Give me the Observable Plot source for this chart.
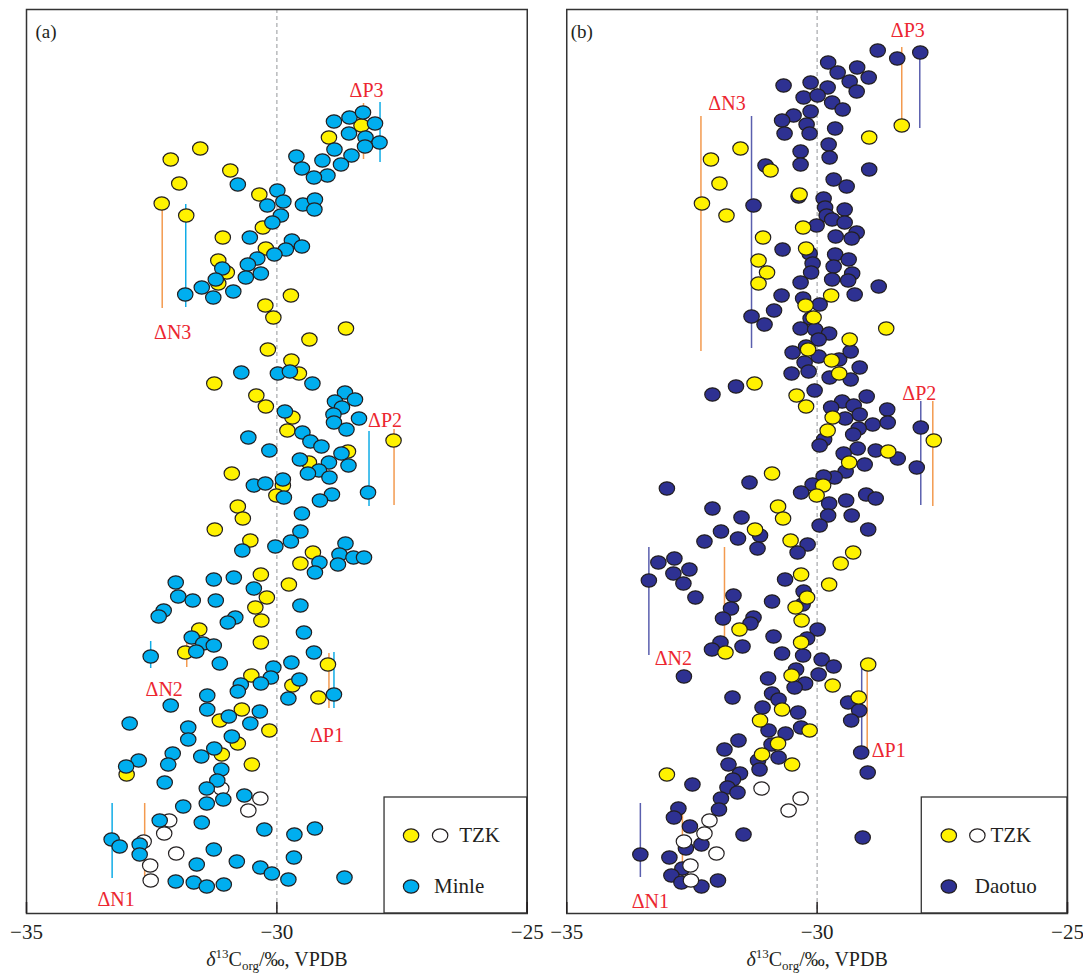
<!DOCTYPE html>
<html>
<head>
<meta charset="utf-8">
<script src="https://cdn.jsdelivr.net/npm/d3@7"></script>
<script src="https://cdn.jsdelivr.net/npm/@observablehq/plot@0.6"></script>
<style>
  html, body { margin: 0; padding: 0; background: #fff; }
  #chart svg text { font-family: "Liberation Serif", "Times New Roman", serif; }
</style>
</head>
<body>
<div id="chart"></div>
<script>
// ---------- data: [δ13C (‰), stratigraphic height (relative units)] ----------
const tzkFilled = [
  [-28.31,78.8],[-28.96,77.6],[-31.53,76.5],[-32.12,75.4],[-30.93,74.3],[-31.95,73.0],[-32.30,71.0],[-31.81,69.8],[-30.35,71.9],[-30.28,68.6],
  [-31.08,67.6],[-30.22,66.5],[-31.17,65.3],[-31.00,64.1],[-31.17,63.0],[-29.72,61.8],[-30.23,60.8],[-30.07,59.6],[-28.62,58.5],[-29.35,57.4],
  [-30.18,56.4],[-29.71,55.3],[-29.56,54.0],[-31.25,53.0],[-30.41,51.8],[-30.22,50.7],[-29.69,49.6],[-29.79,48.3],[-27.67,47.3],[-28.58,46.2],
  [-29.36,45.1],[-30.90,44.0],[-29.88,42.8],[-30.01,41.8],[-30.78,40.7],[-30.68,39.5],[-31.24,38.4],[-30.53,37.3],[-29.28,36.1],[-29.53,35.0],
  [-30.32,33.9],[-29.76,32.9],[-30.20,31.6],[-30.43,30.6],[-30.31,29.3],[-31.55,28.4],[-30.32,27.1],[-31.83,26.1],[-28.98,24.9],[-30.51,23.8],
  [-29.69,22.8],[-29.17,21.6],[-30.70,20.4],[-31.14,19.3],[-30.15,18.3],[-30.78,17.0],[-31.10,15.9],[-30.50,14.9],[-33.00,13.9]
];
const tzkOpen = [
  [-31.11,12.5],[-30.33,11.5],[-30.57,10.3],[-32.15,9.3],[-32.25,8.0],[-32.66,7.2],[-32.01,6.0],[-32.53,4.8],[-32.52,3.3]
];
const minle = [
  [-28.86,79.2],[-28.55,79.6],[-28.28,80.1],[-28.04,79.0],[-28.56,78.0],[-28.23,77.6],[-27.95,77.1],[-28.24,76.7],[-28.85,76.4],[-28.51,75.8],
  [-29.61,75.7],[-29.09,75.3],[-28.72,74.9],[-29.50,74.5],[-28.99,73.8],[-29.26,73.6],[-30.78,72.9],[-29.99,72.3],[-30.19,70.8],[-29.87,71.2],
  [-29.48,70.9],[-29.24,71.4],[-29.25,70.4],[-29.92,69.8],[-30.09,69.1],[-30.54,67.6],[-29.70,67.3],[-29.50,66.7],[-29.82,66.4],[-30.05,65.9],
  [-30.39,65.5],[-30.58,64.9],[-31.09,64.5],[-30.62,63.6],[-30.32,64.0],[-31.22,63.4],[-31.50,62.6],[-31.27,61.6],[-30.87,62.2],[-31.83,61.9],
  [-30.71,54.1],[-29.98,54.0],[-29.74,54.2],[-29.29,53.0],[-28.64,52.1],[-28.84,51.2],[-28.44,51.4],[-28.70,50.6],[-28.87,49.9],[-28.36,49.5],
  [-28.86,49.1],[-28.61,48.4],[-29.84,50.2],[-29.49,48.1],[-29.33,47.2],[-29.11,46.7],[-30.57,47.6],[-30.15,46.3],[-29.54,45.4],[-28.71,46.0],
  [-28.96,45.1],[-28.57,44.8],[-29.16,44.3],[-29.38,44.0],[-28.95,43.6],[-30.46,42.8],[-30.23,43.0],[-29.88,43.4],[-29.86,41.6],[-28.90,41.9],
  [-29.14,41.3],[-28.18,42.1],[-29.50,40.0],[-29.53,38.2],[-29.72,37.2],[-30.03,36.7],[-30.69,36.3],[-28.63,37.0],[-28.75,35.9],[-28.47,35.6],
  [-28.26,35.6],[-28.78,34.9],[-29.15,35.1],[-29.24,34.1],[-32.02,33.1],[-31.26,33.4],[-30.86,33.6],[-30.46,32.5],[-31.97,31.7],[-31.68,31.3],
  [-31.22,31.3],[-29.53,30.8],[-32.26,30.3],[-32.36,29.7],[-30.83,29.6],[-30.98,29.1],[-29.46,28.1],[-31.70,27.6],[-31.47,27.0],[-31.26,26.8],
  [-31.61,26.2],[-32.52,25.7],[-29.26,26.1],[-31.14,25.0],[-29.71,25.1],[-30.07,24.6],[-30.12,23.6],[-30.32,23.0],[-30.72,22.9],[-30.78,22.2],
  [-29.55,23.4],[-28.86,21.9],[-29.77,21.5],[-31.39,21.8],[-32.12,20.8],[-31.39,20.4],[-30.34,20.2],[-30.53,19.0],[-30.96,19.7],[-32.94,19.0],
  [-31.77,18.6],[-31.77,17.4],[-30.90,17.7],[-32.08,16.0],[-32.17,14.9],[-31.51,15.7],[-31.25,16.5],[-32.76,15.3],[-33.01,14.7],[-31.11,14.4],
  [-31.19,13.3],[-32.24,13.1],[-31.40,12.5],[-31.07,11.4],[-31.40,11.0],[-30.65,11.8],[-31.87,10.7],[-32.34,9.3],[-31.50,9.1],[-30.25,8.4],
  [-29.65,7.9],[-29.24,8.5],[-33.30,7.4],[-33.14,6.7],[-32.74,6.9],[-32.74,5.9],[-31.26,6.4],[-29.66,5.6],[-30.80,5.2],[-31.60,4.9],
  [-30.33,4.6],[-30.10,4.0],[-29.77,3.4],[-28.65,3.6],[-32.02,3.2],[-31.66,3.1],[-31.40,2.7],[-31.06,2.9]
];
const daotuo = [
  [-28.79,86.3],[-28.40,85.5],[-27.94,86.1],[-29.78,85.1],[-29.59,84.1],[-29.20,84.6],[-28.97,83.6],[-29.35,83.2],[-29.21,82.2],[-30.67,82.8],
  [-30.13,83.1],[-29.79,82.6],[-30.27,81.6],[-29.99,81.8],[-29.70,81.1],[-29.49,80.4],[-30.13,80.2],[-30.47,79.8],[-30.70,79.3],[-30.21,78.9],
  [-30.65,78.0],[-30.15,78.0],[-29.64,78.5],[-29.77,76.9],[-30.33,76.2],[-29.75,75.6],[-30.33,74.9],[-31.03,74.8],[-28.96,74.4],[-29.67,73.4],
  [-29.41,72.7],[-30.37,71.7],[-29.87,71.5],[-29.84,70.6],[-29.45,70.4],[-29.81,69.8],[-29.70,69.4],[-29.45,69.1],[-31.27,70.8],[-30.01,68.8],
  [-29.63,67.7],[-29.21,68.1],[-29.31,67.5],[-30.69,66.4],[-30.15,66.0],[-29.64,65.9],[-29.37,65.4],[-30.09,65.0],[-29.67,64.7],[-30.12,64.1],
  [-29.30,64.0],[-29.70,63.4],[-29.38,63.3],[-30.33,63.1],[-28.77,62.7],[-30.71,61.8],[-29.25,61.9],[-30.28,61.5],[-29.95,60.9],[-30.86,60.3],
  [-31.31,59.7],[-31.05,58.9],[-30.13,59.5],[-30.33,58.5],[-30.04,58.4],[-29.76,58.0],[-29.97,57.4],[-30.49,56.1],[-30.22,56.7],[-29.97,55.7],
  [-30.25,55.1],[-29.56,55.4],[-29.33,56.2],[-29.15,54.6],[-30.51,54.0],[-30.17,54.2],[-29.75,53.6],[-29.33,53.4],[-31.62,52.7],[-32.09,51.9],
  [-30.05,52.3],[-29.01,51.7],[-29.50,51.2],[-29.27,50.8],[-29.72,50.6],[-28.60,50.4],[-29.15,49.9],[-29.44,49.5],[-28.89,48.9],[-28.59,49.1],
  [-27.93,48.6],[-29.17,48.5],[-29.28,47.9],[-29.86,47.4],[-29.95,46.8],[-29.19,46.5],[-29.47,46.0],[-28.83,46.3],[-28.39,45.5],[-29.05,44.9],
  [-28.01,44.6],[-29.43,44.2],[-29.65,43.6],[-29.87,43.7],[-30.09,42.9],[-33.00,42.5],[-31.35,43.1],[-30.32,42.1],[-29.76,41.0],[-29.02,41.9],
  [-28.83,41.5],[-29.42,41.3],[-29.78,39.8],[-29.31,39.8],[-29.95,38.8],[-28.98,38.4],[-32.09,40.5],[-31.51,39.6],[-31.92,38.2],[-32.25,37.2],
  [-31.58,37.5],[-31.14,37.8],[-31.19,36.5],[-30.19,36.9],[-30.39,36.1],[-32.85,35.5],[-33.17,35.1],[-32.55,34.4],[-32.87,34.0],[-32.67,33.0],
  [-33.36,33.3],[-32.43,31.6],[-30.64,33.4],[-30.27,32.2],[-30.29,30.9],[-31.67,31.8],[-30.90,31.2],[-31.72,30.5],[-31.88,29.5],[-31.27,29.6],
  [-31.33,29.0],[-29.99,28.4],[-30.87,27.7],[-31.93,27.1],[-32.10,26.4],[-31.49,26.7],[-30.20,27.5],[-30.70,26.0],[-30.28,25.8],[-29.91,25.4],
  [-29.67,24.7],[-29.97,23.9],[-30.42,24.4],[-30.24,23.0],[-30.45,22.6],[-30.98,23.5],[-32.66,23.7],[-31.69,21.6],[-30.90,22.0],[-30.77,21.4],
  [-31.09,20.6],[-30.38,20.1],[-29.38,21.1],[-29.16,20.3],[-29.32,19.3],[-30.97,18.3],[-30.63,18.0],[-30.32,18.6],[-31.57,17.3],[-31.85,16.4],
  [-30.91,16.9],[-30.77,15.6],[-31.18,15.3],[-31.15,14.4],[-29.12,16.1],[-28.99,14.1],[-31.77,14.9],[-31.54,14.0],[-31.68,13.4],[-31.79,12.6],
  [-31.59,12.1],[-32.49,12.9],[-31.92,11.5],[-31.96,10.4],[-32.77,10.5],[-32.86,9.6],[-32.54,8.7],[-31.47,7.9],[-29.09,7.6],[-32.31,6.9],
  [-32.62,6.5],[-33.53,5.9],[-32.95,5.6],[-32.69,4.5],[-32.91,3.8],[-32.71,3.1],[-32.31,2.7],[-31.98,3.3]
];
// shift markers: [panel, series, δ13C, height from, height to]
const shiftLines = [
  ["a","TZK",-32.29,60.5,71.0],["a","Minle",-31.82,60.6,70.9],
  ["a","TZK",-28.27,75.4,81.0],["a","Minle",-27.94,75.1,81.1],
  ["a","Minle",-28.16,40.7,48.2],["a","TZK",-27.66,40.8,48.4],
  ["a","Minle",-32.52,24.5,27.2],["a","TZK",-31.80,24.6,27.0],
  ["a","TZK",-28.96,20.5,26.0],["a","Minle",-28.86,20.5,26.1],
  ["a","Minle",-33.29,3.5,11.0],["a","TZK",-32.64,3.6,11.0],
  ["b","TZK",-32.32,56.2,79.7],["b","Daotuo",-31.31,56.5,79.7],
  ["b","TZK",-28.31,78.8,86.6],["b","Daotuo",-27.95,78.5,86.1],
  ["b","Daotuo",-27.93,40.8,51.2],["b","TZK",-27.69,40.7,51.2],
  ["b","Daotuo",-33.36,25.8,36.6],["b","TZK",-31.85,25.8,36.6],
  ["b","Daotuo",-29.11,16.5,24.8],["b","TZK",-29.00,16.3,24.9],
  ["b","Daotuo",-33.53,3.6,11.0],["b","TZK",-32.69,3.6,11.0]
];
// shift labels: [panel, label, δ13C, height]
const shiftLabels = [
  ["a","ΔN3",-32.08,58.1],["a","ΔP3",-28.21,82.3],["a","ΔP2",-27.84,49.3],
  ["a","ΔN2",-32.25,22.4],["a","ΔP1",-29.00,17.8],["a","ΔN1",-33.21,1.4],
  ["b","ΔN3",-31.80,81.0],["b","ΔP3",-28.19,88.3],["b","ΔP2",-27.96,52.0],
  ["b","ΔN2",-32.87,25.5],["b","ΔP1",-28.57,16.3],["b","ΔN1",-33.33,1.2]
];
const panels = ["a", "b"];
const panelLabels = ["(a)", "(b)"];
const xTicks = [-35, -30, -25];
const axisTitle = "δ13Corg/‰, VPDB";
// legend entries: [panel, series, symbol x, text x, row height]
const legendEntries = [
  ["a","TZK",-27.32,-26.36,7.8],["a","Minle",-27.32,-26.86,2.7],
  ["b","TZK",-27.37,-26.54,7.8],["b","Daotuo",-27.37,-26.85,2.7]
];
const legendOpen = [["a",-26.74,7.8],["b",-26.80,7.8]];
const legendBox = [["a",-27.85,-25,0,11.6],["b",-27.91,-25,0,11.6]];

// ---------- styles ----------
const serif = '"Liberation Serif", "Times New Roman", serif';
const fillColor = {TZK: "#FFF200", Minle: "#00AEEF", Daotuo: "#2E3192"};
const lineColor = {TZK: "#F39A4F", Minle: "#10ACE6", Daotuo: "#5A5FAE"};
const red = "#EC2630";
const ink = "#231F20";

const ellipse = {
  draw(ctx, size) {
    const r = Math.sqrt(size / Math.PI);
    const a = r * 1.07, b = r * 0.93, kx = a * 0.5523, ky = b * 0.5523;
    ctx.moveTo(a, 0);
    ctx.bezierCurveTo(a, ky, kx, b, 0, b);
    ctx.bezierCurveTo(-kx, b, -a, ky, -a, 0);
    ctx.bezierCurveTo(-a, -ky, -kx, -b, 0, -b);
    ctx.bezierCurveTo(kx, -b, a, -ky, a, 0);
    ctx.closePath();
  }
};

const rows = (pts, panel) => pts.map(([x, y]) => ({panel, x, y}));
const dotOpts = {fx: "panel", x: "x", y: "y", r: 7.2, symbol: ellipse, stroke: ink, strokeWidth: 1.2};

const lineRows = shiftLines.map(([panel, series, x, y1, y2]) => ({panel, series, x, y1, y2}));
const labelRows = shiftLabels.map(([panel, label, x, y]) => ({panel, label, x, y}));
const legendDotRows = legendEntries.map(([panel, series, x, tx, y]) => ({panel, series, x, y}));
const legendTextRows = legendEntries.map(([panel, series, x, tx, y]) => ({panel, series, x: tx, y}));
const legendOpenRows = legendOpen.map(([panel, x, y]) => ({panel, x, y}));
const legendBoxRows = legendBox.map(([panel, x1, x2, y1, y2]) => ({panel, x1, x2, y1, y2}));

const chart = Plot.plot({
  width: 1083,
  height: 973,
  marginLeft: 26,
  marginRight: 16,
  marginTop: 9,
  marginBottom: 60,
  style: {fontFamily: serif, fontSize: "20px", background: "#fff", color: ink},
  x: {domain: [-35, -25], label: null},
  y: {domain: [0, 90.4], axis: null},
  fx: {domain: panels, axis: null, paddingInner: 0.0731, paddingOuter: 0, round: false},
  marks: [
    Plot.ruleX([-30], {stroke: "#A7A9AC", strokeWidth: 1.2, strokeDasharray: "4,3"}),
    Plot.ruleX(lineRows, {fx: "panel", x: "x", y1: "y1", y2: "y2", stroke: d => lineColor[d.series], strokeWidth: 1.5}),
    // panel a: TZK beneath Minle
    Plot.dot(rows(tzkFilled, "a"), {...dotOpts, fill: fillColor.TZK}),
    Plot.dot(rows(tzkOpen, "a"), {...dotOpts, fill: "#fff"}),
    Plot.dot(rows(minle, "a"), {...dotOpts, fill: fillColor.Minle}),
    // panel b: Daotuo beneath TZK
    Plot.dot(rows(daotuo, "b"), {...dotOpts, fill: fillColor.Daotuo}),
    Plot.dot(rows(tzkFilled, "b"), {...dotOpts, fill: fillColor.TZK}),
    Plot.dot(rows(tzkOpen, "b"), {...dotOpts, fill: "#fff"}),
    Plot.text(labelRows, {fx: "panel", x: "x", y: "y", text: "label", fill: red, fontSize: 20, fontFamily: serif, lineAnchor: "middle"}),
    // legends
    Plot.rect(legendBoxRows, {fx: "panel", x1: "x1", x2: "x2", y1: "y1", y2: "y2", fill: "#fff", stroke: "#333", strokeWidth: 1.3}),
    Plot.dot(legendDotRows, {fx: "panel", x: "x", y: "y", r: 7.2, symbol: ellipse, fill: d => fillColor[d.series], stroke: ink, strokeWidth: 1.2}),
    Plot.dot(legendOpenRows, {fx: "panel", x: "x", y: "y", r: 7.2, symbol: ellipse, fill: "#fff", stroke: ink, strokeWidth: 1.2}),
    Plot.text(legendTextRows, {fx: "panel", x: "x", y: "y", text: "series", textAnchor: "start", lineAnchor: "middle", fontSize: 21, fontFamily: serif, fill: ink}),
    // panel letters
    Plot.text([{panel: "a", t: panelLabels[0]}], {fx: "panel", text: "t", frameAnchor: "top-left", dx: 9, dy: 22, textAnchor: "start", lineAnchor: "middle", fontSize: 19, fontFamily: serif, fill: ink}),
    Plot.text([{panel: "b", t: panelLabels[1]}], {fx: "panel", text: "t", frameAnchor: "top-left", dx: 4, dy: 22, textAnchor: "start", lineAnchor: "middle", fontSize: 19, fontFamily: serif, fill: ink}),
    Plot.frame({stroke: "#333", strokeWidth: 1.5}),
    Plot.axisX({ticks: xTicks, tickSize: -11, tickPadding: 22, fontSize: 21, fontFamily: serif, label: null, stroke: ink, strokeWidth: 1.5}),
    Plot.text([axisTitle], {text: d => d, frameAnchor: "bottom", dy: 46, lineAnchor: "middle", fontSize: 20, fontFamily: serif, fill: ink})
  ]
});

// rich text for axis title: italic δ, superscript 13, subscript org
chart.querySelectorAll("text").forEach(t => {
  if (t.textContent === axisTitle) {
    t.textContent = "";
    const ns = "http://www.w3.org/2000/svg";
    const parts = [
      {s: "δ", style: "italic"},
      {s: "13", size: 13, dy: -8},
      {s: "C", dy: 8},
      {s: "org", size: 13, dy: 4},
      {s: "/‰, VPDB", dy: -4}
    ];
    for (const p of parts) {
      const ts = document.createElementNS(ns, "tspan");
      ts.textContent = p.s;
      if (p.style) ts.setAttribute("font-style", p.style);
      if (p.size) ts.setAttribute("font-size", p.size);
      if (p.dy) ts.setAttribute("dy", p.dy);
      t.appendChild(ts);
    }
  }
});

document.getElementById("chart").appendChild(chart);
</script>
</body>
</html>
